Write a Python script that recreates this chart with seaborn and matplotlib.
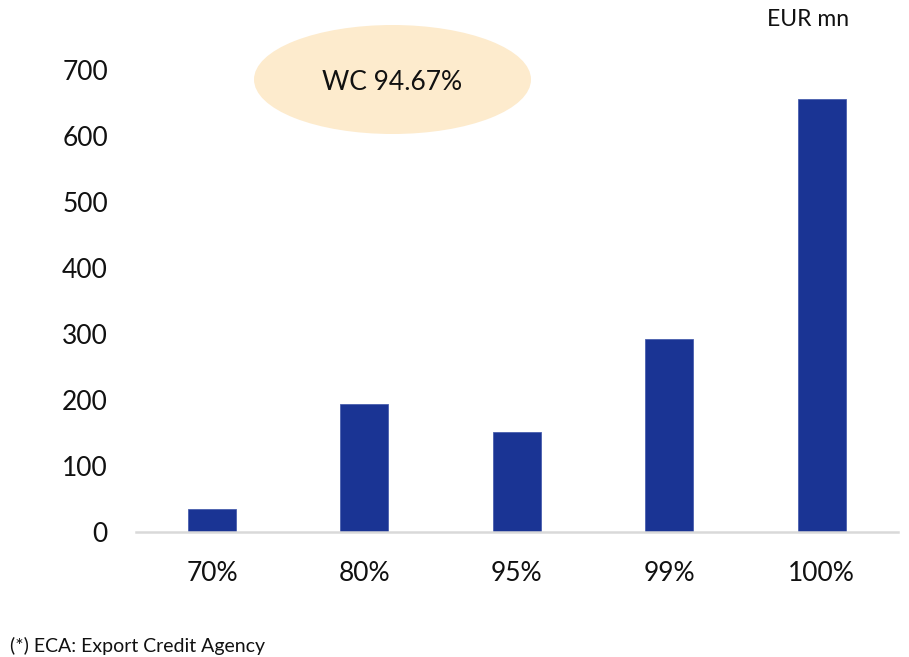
import matplotlib
matplotlib.use("Agg")
import matplotlib.pyplot as plt
from matplotlib.patches import Ellipse
import seaborn as sns
import pandas as pd

categories = ["70%", "80%", "95%", "99%", "100%"]
values = [34, 193, 151, 292, 656]
y_ticks = [0, 100, 200, 300, 400, 500, 600, 700]
unit_label = "EUR mn"
badge_text = "WC 94.67%"
footnote = "(*) ECA: Export Credit Agency"

bar_color = "#1A3494"
badge_color = "#FDEBCD"

sns.set_style("white")
plt.rcParams["font.family"] = ["Lato", "DejaVu Sans"]

df = pd.DataFrame({"level": categories, "value": values})

fig = plt.figure(figsize=(9.09, 6.57), dpi=100)
ax = fig.add_axes([0.1493, 0.1907, 0.8386, 0.7028])

sns.barplot(data=df, x="level", y="value", color=bar_color, width=0.315,
            saturation=1, ax=ax, edgecolor="#4a5fae", linewidth=0.6)

ax.set_xlim(-0.5, 4.5)
ax.set_ylim(0, 700)
ax.set_yticks(y_ticks)
ax.set_xlabel("")
ax.set_ylabel("")
ax.tick_params(axis="y", length=0, pad=20, labelsize=19, labelcolor="#111111")
ax.tick_params(axis="x", length=0, pad=21, labelsize=19, labelcolor="#111111")

for side in ["top", "right", "left"]:
    ax.spines[side].set_visible(False)
ax.spines["bottom"].set_color("#D9D9D9")
ax.spines["bottom"].set_linewidth(1.8)

# badge ellipse in figure pixel coords
badge = Ellipse((392.5 / 909, 1 - 79.5 / 657), 277 / 909, 109 / 657,
                transform=fig.transFigure, facecolor=badge_color,
                edgecolor="none", zorder=5)
fig.patches.append(badge)
fig.text(392.5 / 909, 1 - 83 / 657, badge_text, ha="center", va="center",
         fontsize=19, color="#111111", zorder=6)

fig.text(808 / 909, 1 - 20 / 657, unit_label, ha="center", va="center",
         fontsize=16.5, color="#111111")
fig.text(10 / 909, 1 - 646 / 657, footnote, ha="left", va="center",
         fontsize=14, color="#111111")

fig.savefig("out.png", dpi=100)
plt.close(fig)
